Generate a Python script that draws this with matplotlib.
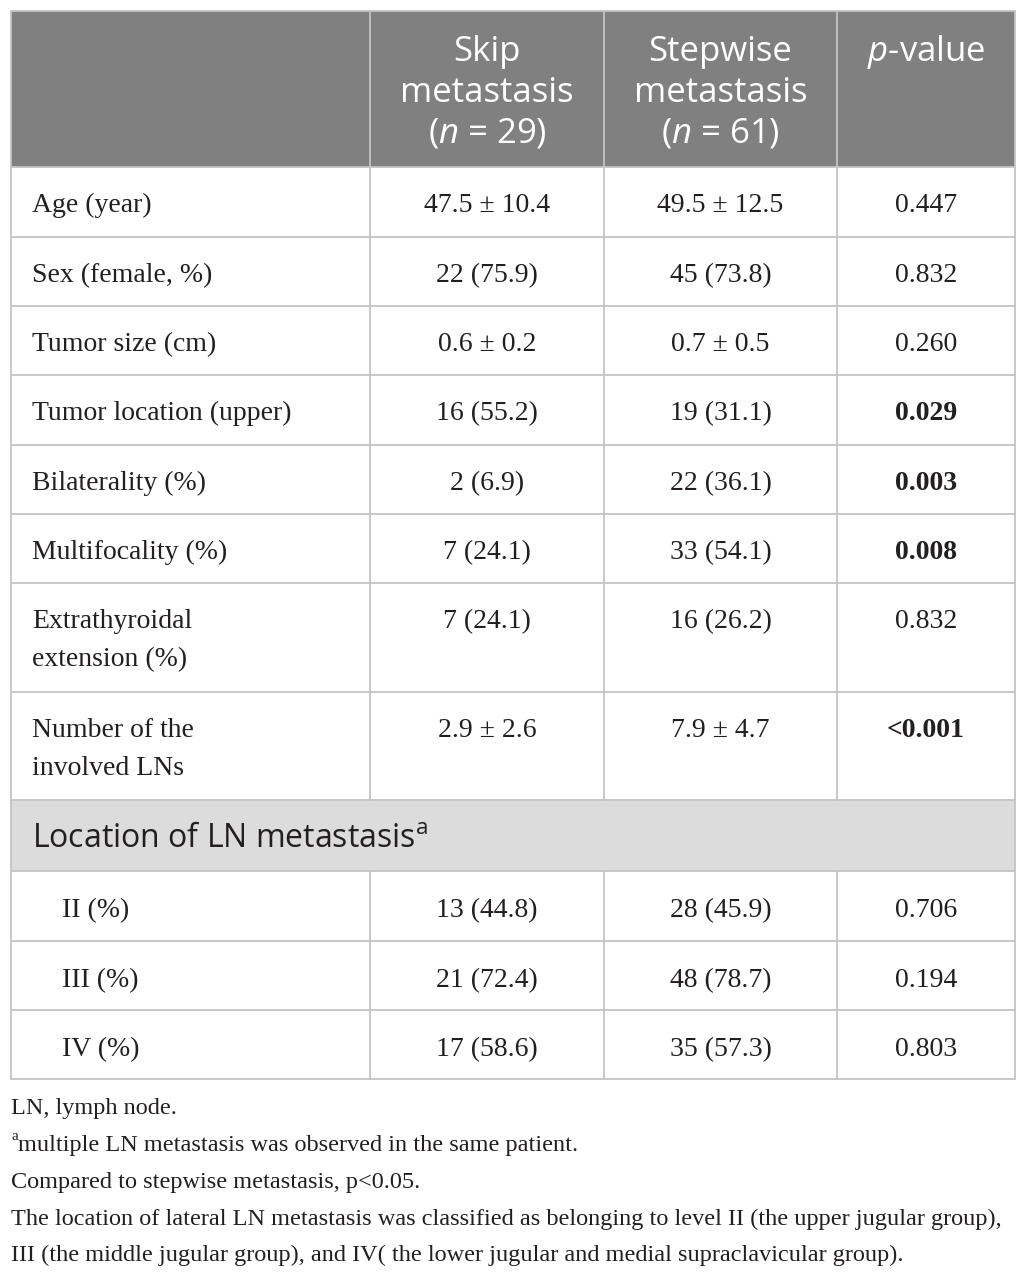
import matplotlib.pyplot as plt
from matplotlib.patches import Rectangle

plt.rcParams['mathtext.fontset'] = 'custom'
plt.rcParams['mathtext.rm'] = 'Open Sans'
plt.rcParams['mathtext.it'] = 'Open Sans:italic'

# table content
row_labels = [['Age (year)'], ['Sex (female, %)'], ['Tumor size (cm)'], ['Tumor location (upper)'],
              ['Bilaterality (%)'], ['Multifocality (%)'], ['Extrathyroidal', 'extension (%)'],
              ['Number of the', 'involved LNs']]
skip_vals = ['47.5 ± 10.4', '22 (75.9)', '0.6 ± 0.2', '16 (55.2)', '2 (6.9)', '7 (24.1)',
             '7 (24.1)', '2.9 ± 2.6']
step_vals = ['49.5 ± 12.5', '45 (73.8)', '0.7 ± 0.5', '19 (31.1)', '22 (36.1)', '33 (54.1)',
             '16 (26.2)', '7.9 ± 4.7']
p_vals = ['0.447', '0.832', '0.260', '0.029', '0.003', '0.008', '0.832', '<0.001']
p_bold = [False, False, False, True, True, True, False, True]

section_label = 'Location of LN metastasis$^{\\mathrm{a}}$'
sub_labels = ['II (%)', 'III (%)', 'IV (%)']
sub_skip = ['13 (44.8)', '21 (72.4)', '17 (58.6)']
sub_step = ['28 (45.9)', '48 (78.7)', '35 (57.3)']
sub_p = ['0.706', '0.194', '0.803']

headers = [[], ['Skip', 'metastasis', '($\\mathit{n}$ = 29)'],
           ['Stepwise', 'metastasis', '($\\mathit{n}$ = 61)'], ['$\\mathit{p}$-value']]

footnotes = ['LN, lymph node.',
             'multiple LN metastasis was observed in the same patient.',
             'Compared to stepwise metastasis, p<0.05.',
             'The location of lateral LN metastasis was classified as belonging to level II (the upper jugular group),',
             'III (the middle jugular group), and IV( the lower jugular and medial supraclavicular group).']

# layout (pixels)
W, H = 1026, 1274
col_x = [11, 370, 604, 837, 1015]
head_top, head_bot = 11, 167
row_h = [70, 69, 69, 70, 69, 69, 109, 108]
sec_h = 71
sub_h = [70, 69, 69]

grid = '#c4c4c4'
head_bg = '#808080'
sec_bg = '#dcdcdc'
txt = '#231f20'
serif = 'Liberation Serif'
sans = 'Open Sans'
fs_body = 20
fs_head = 25
fs_foot = 17.5

fig = plt.figure(figsize=(W / 100, H / 100), dpi=100)
ax = fig.add_axes([0, 0, 1, 1])
ax.set_xlim(0, W)
ax.set_ylim(H, 0)
ax.axis('off')

# header
ax.add_patch(Rectangle((col_x[0], head_top), col_x[-1] - col_x[0], head_bot - head_top,
                       facecolor=head_bg, edgecolor='none'))
for i, h in enumerate(headers):
    cx = (col_x[i] + col_x[i + 1]) / 2
    for k, line in enumerate(h):
        ax.text(cx, 61 + 41 * k, line, ha='center', va='baseline', color='white',
                family=sans, fontsize=fs_head)

lines_y = [head_top, head_bot]
y = head_bot
for i, lab in enumerate(row_labels):
    base = y + 45
    for k, line in enumerate(lab):
        ax.text(32, base + 38 * k, line, ha='left', va='baseline', color=txt,
                family=serif, fontsize=fs_body)
    for j, v in enumerate([skip_vals[i], step_vals[i], p_vals[i]]):
        cx = (col_x[j + 1] + col_x[j + 2]) / 2
        bold = (j == 2 and p_bold[i])
        ax.text(cx, base, v, ha='center', va='baseline', color=txt, family=serif,
                fontsize=fs_body, fontweight='bold' if bold else 'normal')
    y += row_h[i]
    lines_y.append(y)

sec_top = y
ax.add_patch(Rectangle((col_x[0], sec_top), col_x[-1] - col_x[0], sec_h,
                       facecolor=sec_bg, edgecolor='none'))
ax.text(32, sec_top + 47, section_label, ha='left', va='baseline', color=txt,
        family=sans, fontsize=23)
y += sec_h
lines_y.append(y)

for i, lab in enumerate(sub_labels):
    base = y + 46
    ax.text(62, base, lab, ha='left', va='baseline', color=txt, family=serif, fontsize=fs_body)
    for j, v in enumerate([sub_skip[i], sub_step[i], sub_p[i]]):
        cx = (col_x[j + 1] + col_x[j + 2]) / 2
        ax.text(cx, base, v, ha='center', va='baseline', color=txt, family=serif,
                fontsize=fs_body)
    y += sub_h[i]
    lines_y.append(y)
table_bot = y

# grid lines
for ly in lines_y:
    ax.plot([col_x[0], col_x[-1]], [ly, ly], color=grid, lw=1.3, solid_capstyle='butt')
for k, cx in enumerate(col_x):
    if k in (0, len(col_x) - 1):
        ax.plot([cx, cx], [head_top, table_bot], color=grid, lw=1.3)
    else:
        ax.plot([cx, cx], [head_top, sec_top], color=grid, lw=1.3)
        ax.plot([cx, cx], [sec_top + sec_h, table_bot], color=grid, lw=1.3)

# footnotes
foot_y = [1114, 1151, 1188, 1225, 1261]
for k, (fy, note) in enumerate(zip(foot_y, footnotes)):
    x0 = 11
    if k == 1:
        ax.text(11, fy - 11, 'a', ha='left', va='baseline', color=txt, family=serif, fontsize=11)
        x0 = 18
    ax.text(x0, fy, note, ha='left', va='baseline', color=txt, family=serif, fontsize=fs_foot)

fig.savefig('out.png', dpi=100)
